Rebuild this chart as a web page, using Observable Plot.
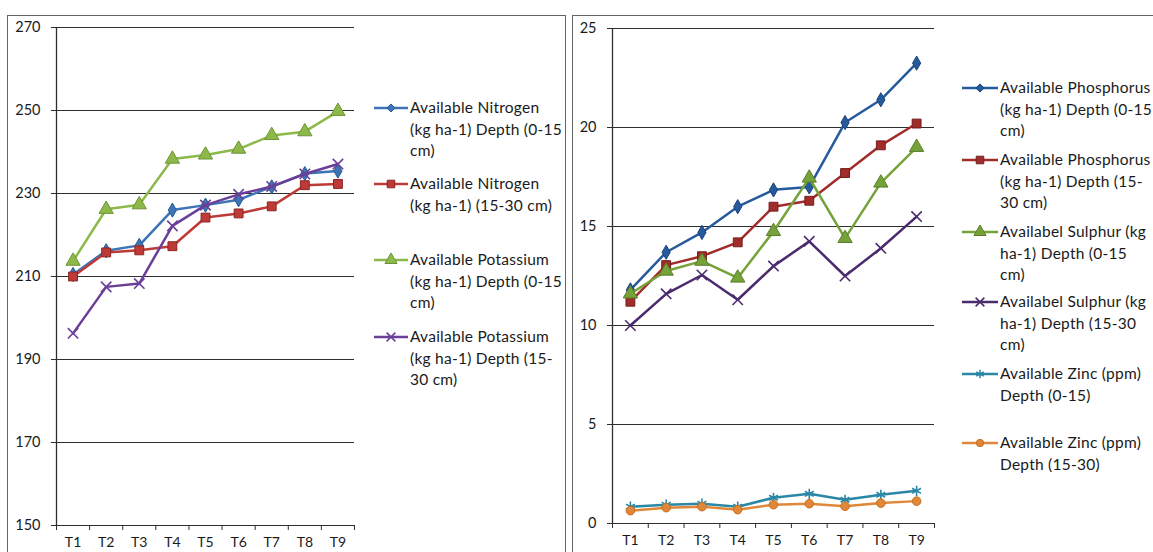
<!DOCTYPE html>
<html>
<head>
<meta charset="utf-8">
<script src="https://cdn.jsdelivr.net/npm/d3@7"></script>
<script src="https://cdn.jsdelivr.net/npm/@observablehq/plot@0.6"></script>
<style>
  html, body { margin: 0; padding: 0; background: #fff; }
  #root { position: relative; width: 1153px; height: 552px; overflow: hidden; font-family: Lato, "Liberation Sans", sans-serif; color: #1a1a1a; }
  .panel { position: absolute; border: 1px solid #666; box-sizing: border-box; }
  .chart { position: absolute; top: 0; }
  .leg { position: absolute; font-size: 15.5px; letter-spacing: 0.25px; line-height: 21.5px; white-space: nowrap; color: #1a1a1a; }
  .glyph { position: absolute; }
</style>
</head>
<body>
<div id="root">
  <div class="panel" style="left:7px; top:15px; width:559px; height:560px;"></div>
  <div class="panel" style="left:572px; top:15px; width:600px; height:560px;"></div>
</div>
<script>
// ---------- data ----------
const categories = ["T1", "T2", "T3", "T4", "T5", "T6", "T7", "T8", "T9"];

// left chart (kg ha-1)
const nitrogen0_15   = [210.5, 216.2, 217.5, 226.0, 227.2, 228.5, 231.6, 234.8, 235.4];
const nitrogen15_30  = [210.0, 215.8, 216.3, 217.3, 224.2, 225.2, 226.9, 232.0, 232.3];
const potassium0_15  = [213.7, 226.2, 227.3, 238.3, 239.3, 240.7, 244.0, 244.9, 249.8];
const potassium15_30 = [196.3, 207.5, 208.3, 222.2, 227.2, 229.8, 231.7, 234.7, 237.1];
const leftTicks = [150, 170, 190, 210, 230, 250, 270];
const leftNames = [
  "Available Nitrogen\n(kg ha-1) Depth (0-15\ncm)",
  "Available Nitrogen\n(kg ha-1) (15-30 cm)",
  "Available Potassium\n(kg ha-1) Depth (0-15\ncm)",
  "Available Potassium\n(kg ha-1) Depth (15-\n30 cm)"
];

// right chart
const phosphorus0_15  = [11.8, 13.7, 14.7, 16.0, 16.85, 17.0, 20.25, 21.4, 23.25];
const phosphorus15_30 = [11.2, 13.05, 13.5, 14.2, 16.0, 16.3, 17.7, 19.1, 20.2];
const sulphur0_15     = [11.6, 12.75, 13.25, 12.4, 14.75, 17.45, 14.4, 17.2, 19.0];
const sulphur15_30    = [10.0, 11.6, 12.55, 11.3, 13.0, 14.25, 12.5, 13.9, 15.5];
const zinc0_15        = [0.85, 0.95, 1.0, 0.85, 1.3, 1.5, 1.2, 1.45, 1.65];
const zinc15_30       = [0.65, 0.8, 0.85, 0.7, 0.95, 1.0, 0.87, 1.03, 1.13];
const rightTicks = [0, 5, 10, 15, 20, 25];
const rightNames = [
  "Available Phosphorus\n(kg ha-1) Depth (0-15\ncm)",
  "Available Phosphorus\n(kg ha-1) Depth (15-\n30 cm)",
  "Availabel Sulphur (kg\nha-1) Depth (0-15\ncm)",
  "Availabel Sulphur (kg\nha-1) Depth (15-30\ncm)",
  "Available Zinc (ppm)\nDepth (0-15)",
  "Available Zinc (ppm)\nDepth (15-30)"
];

// ---------- styles ----------
const leftStyle = [
  {color: "#3c74b6", edge: "#2c5a90", symbol: "diamond", r: 4.3},
  {color: "#be3a37", edge: "#8e2524", symbol: "square", r: 5},
  {color: "#8db94a", edge: "#6e9336", symbol: "triangle", r: 5.3},
  {color: "#6a3f98", edge: "#6a3f98", symbol: "times", r: 4.8}
];
const rightStyle = [
  {color: "#255a9c", edge: "#1b4176", symbol: "diamond", r: 4.3},
  {color: "#a12d2b", edge: "#741e1d", symbol: "square", r: 5},
  {color: "#76a23a", edge: "#5a7d2b", symbol: "triangle", r: 5.3},
  {color: "#4a2b6e", edge: "#4a2b6e", symbol: "times", r: 4.8},
  {color: "#2a87a6", edge: "#2a87a6", symbol: "asterisk", r: 4.8},
  {color: "#e0873a", edge: "#c9701f", symbol: "circle", r: 4.3}
];

function rows(seriesList) {
  const out = [];
  seriesList.forEach((vals, s) => vals.forEach((v, i) => out.push({s, x: i + 1, y: v})));
  return out;
}

function makeChart({series, styles, yDomain, yTicks, width, marginLeft, marginRight, marginTop, marginBottom}) {
  const data = rows(series);
  const marks = [
    Plot.gridY({ticks: yTicks, stroke: "#2e2e2e", strokeOpacity: 1, strokeWidth: 1.2}),
    Plot.ruleX([0.5], {y1: yDomain[0], y2: yDomain[1], stroke: "#2e2e2e", strokeWidth: 1.3}),
    Plot.axisY({ticks: yTicks, tickSize: 5, tickPadding: 11, stroke: "#2e2e2e", fontSize: 14.5, label: null}),
    Plot.axisX({ticks: d3.range(0.5, 10, 1), tickSize: 5, tickFormat: () => "", stroke: "#2e2e2e", label: null}),
    Plot.axisX({ticks: d3.range(1, 10), tickSize: 0, tickPadding: 12, fontSize: 14, tickFormat: i => categories[i - 1], label: null})
  ];
  styles.forEach((st, s) => {
    const d = data.filter(r => r.s === s);
    marks.push(Plot.line(d, {x: "x", y: "y", stroke: st.color, strokeWidth: 2.5}));
    const filled = !(st.symbol === "times" || st.symbol === "asterisk");
    marks.push(Plot.dot(d, {x: "x", y: "y", symbol: () => st.symbol, r: st.r,
      fill: filled ? st.color : "none", stroke: st.edge, strokeWidth: filled ? 1 : 1.6}));
  });
  return Plot.plot({
    width, height: 552, marginLeft, marginRight, marginTop, marginBottom,
    style: {fontFamily: "Lato, 'Liberation Sans', sans-serif", fontSize: "14.5px", color: "#1a1a1a", background: "transparent", overflow: "visible"},
    x: {type: "linear", domain: [0.5, 9.5]},
    y: {domain: yDomain},
    symbol: {type: "identity"},
    marks
  });
}

const root = document.getElementById("root");

const left = makeChart({
  series: [nitrogen0_15, nitrogen15_30, potassium0_15, potassium15_30],
  styles: leftStyle, yDomain: [150, 270], yTicks: leftTicks,
  width: 360, marginLeft: 56, marginRight: 6, marginTop: 27, marginBottom: 27
});
left.classList.add("chart"); left.style.left = "0px";
root.appendChild(left);

const right = makeChart({
  series: [phosphorus0_15, phosphorus15_30, sulphur0_15, sulphur15_30, zinc0_15, zinc15_30],
  styles: rightStyle, yDomain: [0, 25], yTicks: rightTicks,
  width: 372, marginLeft: 40, marginRight: 10, marginTop: 28, marginBottom: 29
});
right.classList.add("chart"); right.style.left = "572px";
root.appendChild(right);

// ---------- legends ----------
function legend(names, styles, x0, textX, tops) {
  names.forEach((name, i) => {
    const st = styles[i];
    const cy = tops[i];
    const w = textX - x0 - 2;
    const svg = d3.create("svg").attr("class", "glyph").attr("width", w + 4).attr("height", 16)
      .style("left", (x0 - 2) + "px").style("top", (cy - 8) + "px");
    svg.append("line").attr("x1", 2).attr("x2", w + 2).attr("y1", 8).attr("y2", 8)
      .attr("stroke", st.color).attr("stroke-width", 2.4);
    const symMap = {diamond: d3.symbolDiamond2, square: d3.symbolSquare, triangle: d3.symbolTriangle,
      times: d3.symbolTimes, asterisk: d3.symbolAsterisk, circle: d3.symbolCircle};
    const filled = !(st.symbol === "times" || st.symbol === "asterisk");
    const size = Math.PI * (st.r * 0.85) ** 2;
    svg.append("path").attr("d", d3.symbol(symMap[st.symbol], size)())
      .attr("transform", `translate(${2 + w / 2},8)`)
      .attr("fill", filled ? st.color : "none").attr("stroke", st.edge)
      .attr("stroke-width", filled ? 1 : 1.5);
    root.appendChild(svg.node());
    const div = document.createElement("div");
    div.className = "leg";
    div.style.left = textX + "px";
    div.style.top = (cy - 11) + "px";
    div.innerHTML = name.split("\n").map(t => t.replace(/&/g, "&amp;").replace(/</g, "&lt;")).join("<br>");
    root.appendChild(div);
  });
}
legend(leftNames, leftStyle, 374, 410, [108, 184, 260, 337]);
legend(rightNames, rightStyle, 962, 1000, [88, 160, 232, 302, 374, 443]);
</script>
</body>
</html>
